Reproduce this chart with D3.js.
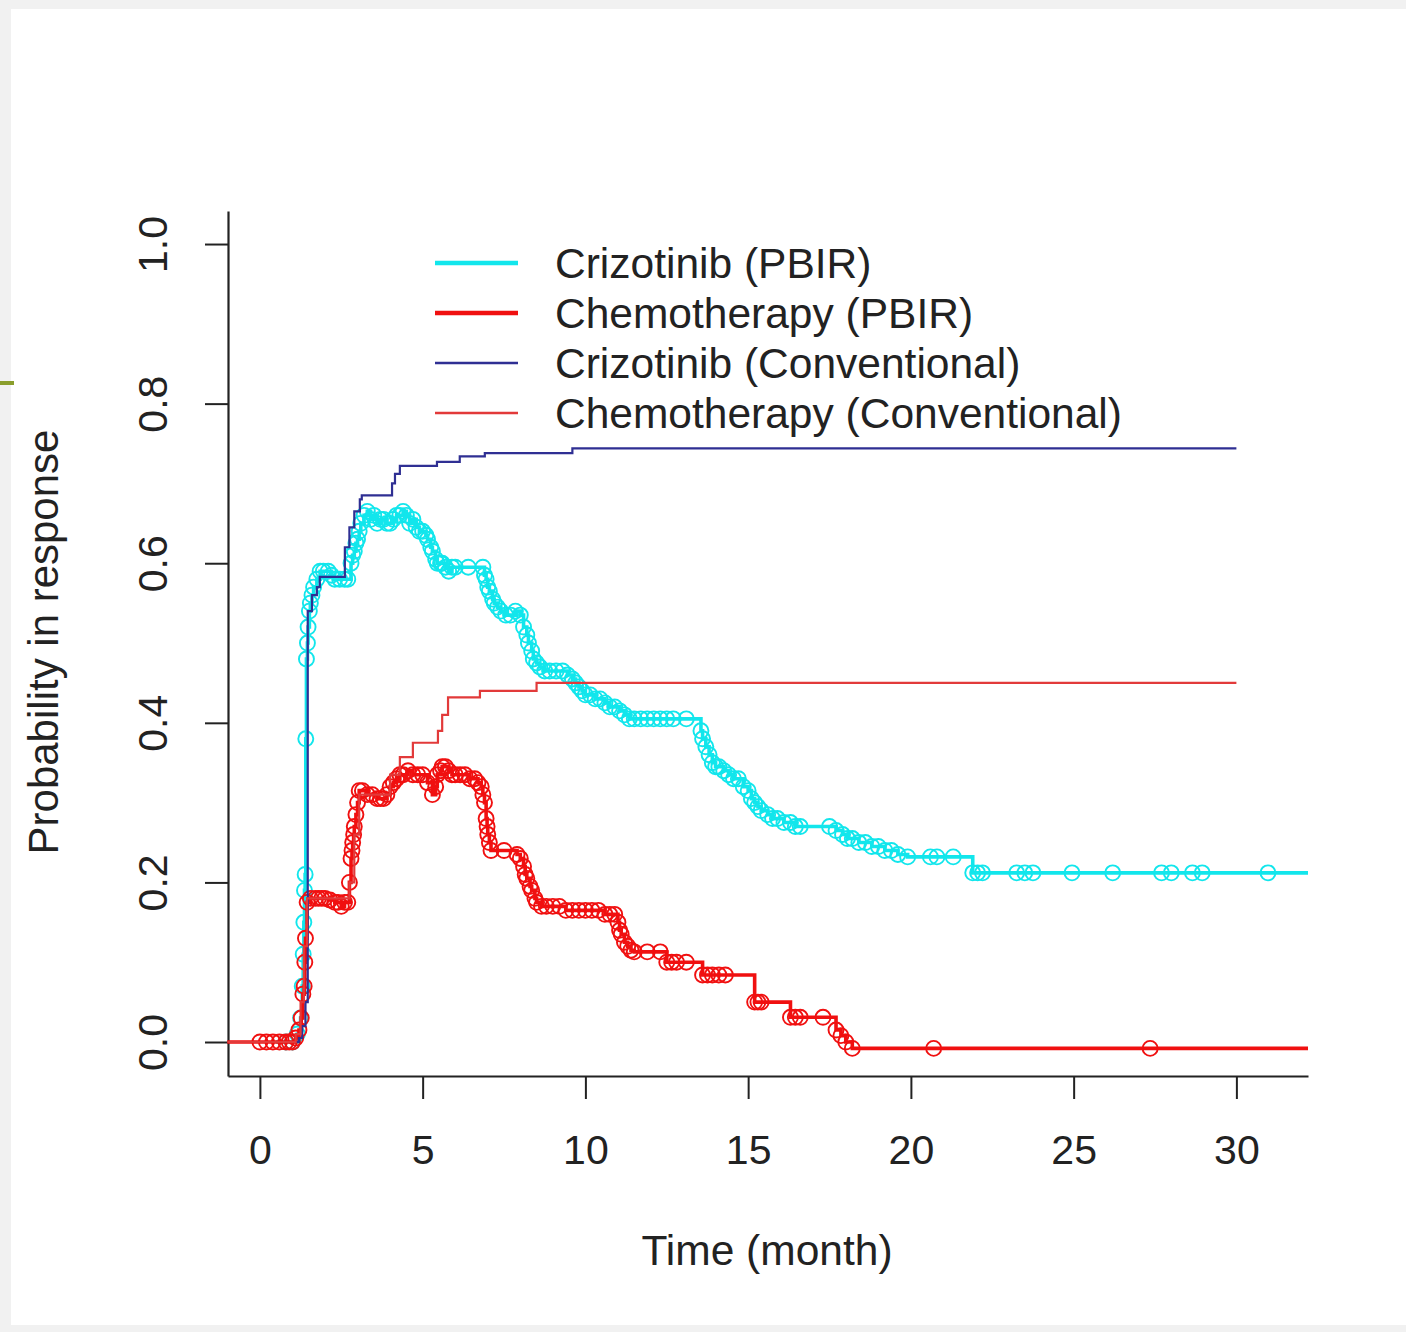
<!DOCTYPE html>
<html>
<head>
<meta charset="utf-8">
<script src="https://cdn.jsdelivr.net/npm/d3@7"></script>
<style>
  body { margin: 0; background: #fff; }
  svg { display: block; font-family: "Liberation Sans", Arial, sans-serif; }
</style>
</head>
<body>
<div id="chart"></div>
<script>
// --- data (time in months, probability) ---
const crizPbirTime = [0.5, 0.8, 1.0, 1.15, 1.25, 1.3, 1.33, 1.35, 1.37, 1.39, 1.41, 1.43, 1.46, 1.48, 1.52, 1.55, 1.6, 1.65, 1.75, 1.85,
  1.95, 2.1, 2.2, 2.3, 2.45, 2.6, 2.7, 2.8, 2.85, 2.9, 2.95, 3.0, 3.05, 3.1, 3.2, 3.3, 3.4, 3.5, 3.6, 3.7, 3.8, 3.9, 4.0, 4.1,
  4.2, 4.3, 4.4, 4.5, 4.6, 4.7, 4.8, 4.9, 5.0, 5.1, 5.15, 5.25, 5.3, 5.4, 5.45, 5.55, 5.6, 5.7, 5.8, 5.9, 6.0, 6.4, 6.85,
  6.9, 6.95, 7.0, 7.05, 7.15, 7.2, 7.3, 7.4, 7.55, 7.7, 7.85, 8.0, 8.1, 8.2, 8.25, 8.35, 8.4, 8.5, 8.6, 8.75, 8.9, 9.1,
  9.3, 9.45, 9.6, 9.7, 9.8, 9.9, 10.0, 10.15, 10.3, 10.45, 10.6, 10.75, 10.9, 11.05, 11.2, 11.35, 11.5, 11.7, 11.9, 12.1,
  12.3, 12.5, 12.7, 13.1, 13.55, 13.6, 13.7, 13.8, 13.9, 14.0, 14.1, 14.25, 14.4, 14.55, 14.7, 14.85, 15.0, 15.1, 15.2,
  15.3, 15.4, 15.6, 15.75, 15.9, 16.1, 16.3, 16.45, 16.6, 17.5, 17.7, 17.9, 18.05, 18.2, 18.4, 18.6, 18.8, 19.0, 19.2,
  19.4, 19.6, 19.9, 20.6, 20.8, 21.3, 21.9, 22.05, 22.2, 23.25, 23.5, 23.75, 24.95, 26.2, 27.7, 28.0, 28.65, 28.95, 30.97, 32.2];
const crizPbirProb = [0, 0, 0, 0.01, 0.03, 0.07, 0.11, 0.15, 0.19, 0.21, 0.38, 0.48, 0.5, 0.52, 0.54, 0.55, 0.56, 0.57, 0.58, 0.59,
  0.59, 0.59, 0.585, 0.58, 0.58, 0.58, 0.58, 0.6, 0.61, 0.615, 0.625, 0.63, 0.64, 0.65, 0.66, 0.665, 0.655, 0.66, 0.65, 0.655, 0.655, 0.65, 0.65, 0.655,
  0.66, 0.66, 0.665, 0.66, 0.65, 0.655, 0.645, 0.64, 0.64, 0.635, 0.63, 0.62, 0.615, 0.605, 0.6, 0.6, 0.6, 0.595, 0.59, 0.595, 0.595, 0.595, 0.595,
  0.585, 0.58, 0.57, 0.565, 0.555, 0.55, 0.545, 0.54, 0.535, 0.535, 0.54, 0.535, 0.52, 0.51, 0.5, 0.49, 0.48, 0.475, 0.47, 0.465, 0.465, 0.465,
  0.465, 0.46, 0.455, 0.45, 0.445, 0.44, 0.435, 0.435, 0.43, 0.43, 0.425, 0.42, 0.42, 0.415, 0.41, 0.405, 0.405, 0.405, 0.405, 0.405,
  0.405, 0.405, 0.405, 0.405, 0.39, 0.38, 0.37, 0.36, 0.35, 0.345, 0.345, 0.34, 0.335, 0.33, 0.33, 0.32, 0.315, 0.305, 0.3,
  0.295, 0.29, 0.285, 0.28, 0.28, 0.275, 0.275, 0.27, 0.27, 0.27, 0.265, 0.26, 0.255, 0.255, 0.25, 0.25, 0.245, 0.245, 0.24,
  0.24, 0.235, 0.232, 0.232, 0.232, 0.232, 0.212, 0.212, 0.212, 0.212, 0.212, 0.212, 0.212, 0.212, 0.212, 0.212, 0.212, 0.212, 0.212, 0.212];

const chemoPbirTime = [-1, 0.0, 0.2, 0.4, 0.6, 0.8, 0.9, 1.0, 1.1, 1.2, 1.27, 1.32, 1.36, 1.38, 1.4, 1.45, 1.55, 1.7, 1.8, 1.9, 2.0,
  2.15, 2.3, 2.4, 2.5, 2.6, 2.7, 2.75, 2.8, 2.83, 2.85, 2.88, 2.9, 2.95, 3.0, 3.05, 3.15, 3.3, 3.45, 3.6, 3.7, 3.8, 3.9,
  4.0, 4.1, 4.2, 4.3, 4.4, 4.55, 4.7, 4.85, 5.0, 5.15, 5.3, 5.4, 5.45, 5.55, 5.6, 5.7, 5.8, 5.9, 6.0, 6.15, 6.3, 6.45,
  6.6, 6.7, 6.8, 6.85, 6.9, 6.95, 6.98, 7.0, 7.05, 7.1, 7.5, 7.9, 8.0, 8.1, 8.15, 8.2, 8.3, 8.35, 8.45, 8.5, 8.65, 8.8,
  9.0, 9.2, 9.4, 9.6, 9.8, 10.0, 10.2, 10.4, 10.6, 10.75, 10.9, 11.0, 11.05, 11.1, 11.2, 11.3, 11.4, 11.5, 11.9, 12.3,
  12.5, 12.65, 12.8, 13.1, 13.6, 13.75, 13.9, 14.1, 14.3, 15.2, 15.3, 15.4, 16.3, 16.45, 16.6, 17.3, 17.7, 17.85, 18.0,
  18.2, 20.7, 27.35, 32.2];
const chemoPbirProb = [0, 0, 0, 0, 0, 0, 0, 0, 0.005, 0.015, 0.03, 0.06, 0.07, 0.1, 0.13, 0.175, 0.18, 0.18, 0.18, 0.18, 0.18,
  0.178, 0.175, 0.175, 0.17, 0.175, 0.175, 0.2, 0.23, 0.24, 0.25, 0.26, 0.27, 0.285, 0.3, 0.315, 0.315, 0.31, 0.31, 0.305, 0.305, 0.305, 0.31,
  0.32, 0.325, 0.33, 0.335, 0.335, 0.34, 0.335, 0.335, 0.335, 0.325, 0.31, 0.32, 0.335, 0.34, 0.345, 0.345, 0.34, 0.335, 0.335, 0.335, 0.335, 0.33,
  0.33, 0.325, 0.32, 0.31, 0.3, 0.28, 0.27, 0.26, 0.25, 0.24, 0.24, 0.235, 0.23, 0.22, 0.21, 0.205, 0.195, 0.19, 0.18, 0.175, 0.17, 0.17,
  0.17, 0.17, 0.165, 0.165, 0.165, 0.165, 0.165, 0.165, 0.16, 0.16, 0.16, 0.15, 0.14, 0.135, 0.125, 0.12, 0.115, 0.113, 0.113, 0.113,
  0.1, 0.1, 0.1, 0.1, 0.084, 0.084, 0.084, 0.084, 0.084, 0.05, 0.05, 0.05, 0.031, 0.031, 0.031, 0.031, 0.015, 0.008, 0,
  -0.008, -0.008, -0.008, -0.008];

const crizConvTime = [0.6, 1.2, 1.3, 1.4, 1.47, 1.6, 1.75, 1.84, 2.61, 2.75, 2.9, 3.07, 3.13, 4.06, 4.15, 4.3, 5.44, 6.14, 6.91, 9.6, 30];
const crizConvProb = [0, 0.005, 0.02, 0.05, 0.54, 0.56, 0.57, 0.583, 0.62, 0.645, 0.665, 0.68, 0.685, 0.7, 0.712, 0.722, 0.727, 0.734, 0.738, 0.744, 0.744];

const chemoConvTime = [-1, 1.1, 1.25, 1.35, 1.45, 2.75, 2.9, 3.05, 4.0, 4.3, 4.7, 5.47, 5.6, 5.78, 6.76, 8.5, 30];
const chemoConvProb = [0, 0.01, 0.05, 0.12, 0.18, 0.2, 0.26, 0.31, 0.335, 0.357, 0.375, 0.39, 0.41, 0.432, 0.44, 0.45, 0.45];

const xTicks = [0, 5, 10, 15, 20, 25, 30];
const yTicks = [0, 0.2, 0.4, 0.6, 0.8, 1.0];
const legendLabels = ["Crizotinib (PBIR)", "Chemotherapy (PBIR)", "Crizotinib (Conventional)", "Chemotherapy (Conventional)"];

const W = 1406, H = 1332;
const svg = d3.select("#chart").append("svg").attr("width", W).attr("height", H);

// slide frame remnants
svg.append("rect").attr("width", W).attr("height", H).attr("fill", "#f1f1f1");
svg.append("rect").attr("x", 11).attr("y", 9).attr("width", W - 11).attr("height", 1316).attr("fill", "#fff");
svg.append("rect").attr("x", 0).attr("y", 381).attr("width", 14).attr("height", 4).attr("fill", "#8a9e2c");

const x = d3.scaleLinear().domain([-0.98, 32.2]).range([228, 1308]);
const y = d3.scaleLinear().domain([-0.0426, 1.0414]).range([1076, 211]);

const axisColor = "#222";
const xAxis = svg.append("g").attr("transform", "translate(0,1076)")
  .call(d3.axisBottom(x).tickValues(xTicks).tickSize(23).tickSizeOuter(0).tickPadding(36));
const yAxis = svg.append("g").attr("transform", "translate(228,0)")
  .call(d3.axisLeft(y).tickValues(yTicks).tickFormat(d3.format(".1f")).tickSize(23).tickSizeOuter(0));

[xAxis, yAxis].forEach(a => {
  a.select(".domain").attr("stroke", axisColor).attr("stroke-width", 2.2);
  a.selectAll(".tick line").attr("stroke", axisColor).attr("stroke-width", 2);
  a.selectAll(".tick text").attr("fill", "#222").style("font-size", "41px");
});
yAxis.selectAll(".tick text")
  .attr("x", 0).attr("dy", 0).attr("text-anchor", "middle")
  .attr("transform", "translate(-61,0) rotate(-90)");

svg.append("text").attr("x", 767).attr("y", 1265).attr("text-anchor", "middle")
  .style("font-size", "42.5px").attr("fill", "#222").text("Time (month)");
svg.append("text").attr("text-anchor", "middle")
  .attr("transform", "translate(58,642) rotate(-90)")
  .style("font-size", "42px").attr("fill", "#222").text("Probability in response");

const series = [
  { t: crizPbirTime, p: crizPbirProb, color: "#12e6ec", width: 3.6, marks: true },
  { t: chemoPbirTime, p: chemoPbirProb, color: "#f01010", width: 3.6, marks: true },
  { t: crizConvTime, p: crizConvProb, color: "#2f2f93", width: 2.2, marks: false },
  { t: chemoConvTime, p: chemoConvProb, color: "#e23a3a", width: 2.2, marks: false }
];

const line = d3.line().x(d => x(d[0])).y(d => y(d[1])).curve(d3.curveStepAfter);

series.forEach(s => {
  const pts = s.t.map((t, i) => [t, s.p[i]]);
  svg.append("path").datum(pts).attr("d", line)
    .attr("fill", "none").attr("stroke", s.color).attr("stroke-width", s.width);
  if (s.marks) {
    svg.append("g").selectAll("circle")
      .data(pts.slice(1, -1))
      .enter().append("circle")
      .attr("cx", d => x(d[0])).attr("cy", d => y(d[1])).attr("r", 7.5)
      .attr("fill", "none").attr("stroke", s.color).attr("stroke-width", 1.9);
  }
});

// legend
const legend = svg.append("g").attr("transform", "translate(435,263)");
legendLabels.forEach((lab, i) => {
  const s = series[i];
  legend.append("line").attr("x1", 0).attr("x2", 83).attr("y1", i * 50).attr("y2", i * 50)
    .attr("stroke", s.color).attr("stroke-width", i < 2 ? 4.5 : 2.4);
  legend.append("text").attr("x", 120).attr("y", i * 50 + 15)
    .style("font-size", "42.5px").attr("fill", "#222").text(lab);
});
</script>
</body>
</html>
